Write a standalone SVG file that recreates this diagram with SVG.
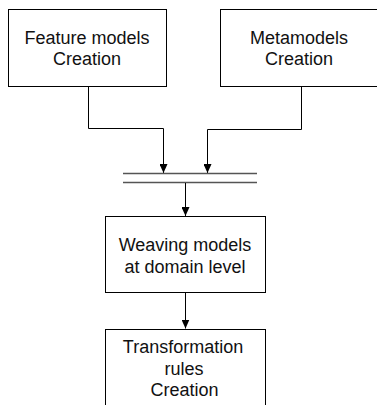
<svg xmlns="http://www.w3.org/2000/svg" width="377" height="405" viewBox="0 0 377 405">
<style>
.box{fill:#fff;stroke:#000;stroke-width:1}
.t{font-family:"Liberation Sans",Arial,sans-serif;font-size:18px;fill:#111;text-anchor:middle}
.c{fill:none;stroke:#000;stroke-width:1}
.bar{stroke:#555;stroke-width:1.5}
</style>
<defs>
<marker id="ah" markerWidth="9" markerHeight="8" refX="9" refY="4" orient="auto" markerUnits="userSpaceOnUse" viewBox="0 0 9 8">
<path d="M0,0 L9,4 L0,8 Z" fill="#000"/>
</marker>
</defs>
<rect width="377" height="405" fill="#fff"/>
<g id="connectors">
<path class="c" d="M88.5,87 V128.5 H163.5 V173" marker-end="url(#ah)"/>
<path class="c" d="M301.5,87 V129.5 H207.5 V173" marker-end="url(#ah)"/>
<line class="bar" x1="123" y1="173.5" x2="257" y2="173.5"/>
<line class="bar" x1="123" y1="182.5" x2="257" y2="182.5"/>
<path class="c" d="M185.5,183 V216" marker-end="url(#ah)"/>
<path class="c" d="M185.5,293 V328.5" marker-end="url(#ah)"/>
</g>
<g id="feature">
<rect class="box" x="8.5" y="9.5" width="158" height="77"/>
<text class="t" x="87" y="44">Feature models</text>
<text class="t" x="87" y="65">Creation</text>
</g>
<g id="metamodels">
<rect class="box" x="220.5" y="9.5" width="158" height="77"/>
<text class="t" x="299" y="44">Metamodels</text>
<text class="t" x="299" y="65">Creation</text>
</g>
<g id="weaving">
<rect class="box" x="105.5" y="216.5" width="160" height="76"/>
<text class="t" x="185" y="251">Weaving models</text>
<text class="t" x="185" y="273">at domain level</text>
</g>
<g id="transformation">
<rect class="box" x="105.5" y="329.5" width="160" height="80"/>
<text class="t" x="183" y="353">Transformation</text>
<text class="t" x="184" y="375">rules</text>
<text class="t" x="184.5" y="396">Creation</text>
</g>
</svg>
